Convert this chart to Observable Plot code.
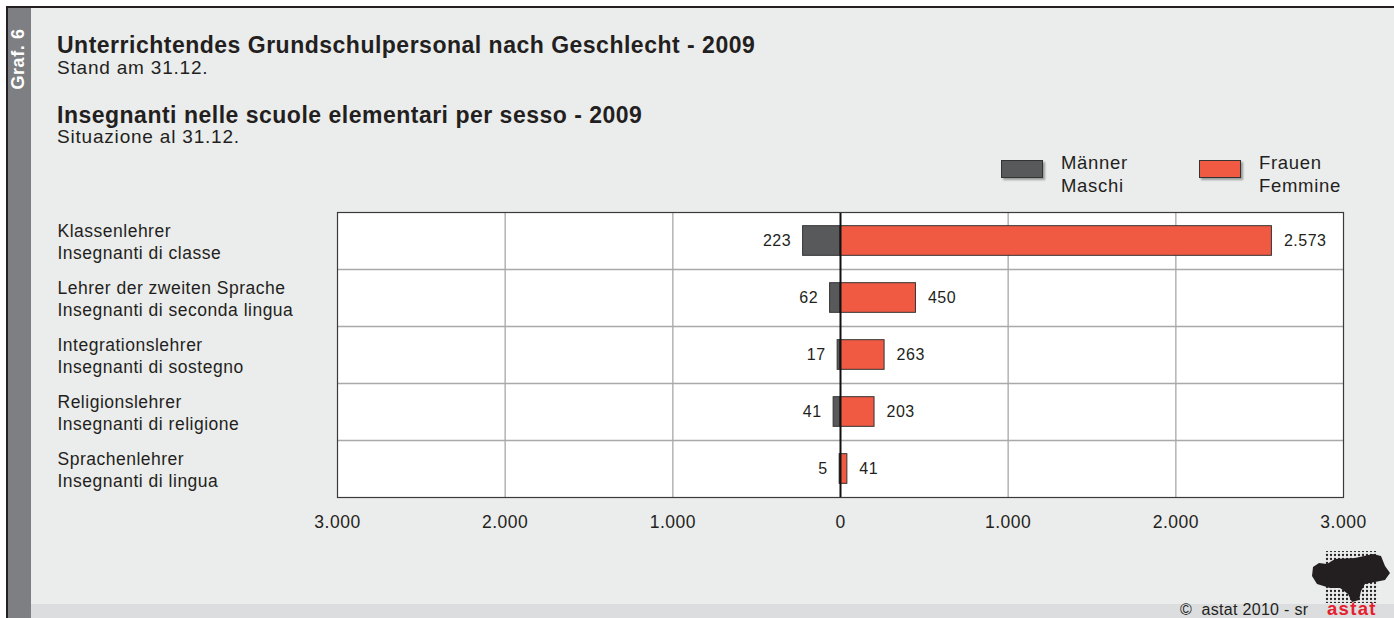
<!DOCTYPE html>
<html>
<head>
<meta charset="utf-8">
<script src="https://cdn.jsdelivr.net/npm/d3@7"></script>
<script src="https://cdn.jsdelivr.net/npm/@observablehq/plot@0.6"></script>
<style>
  html, body { margin: 0; padding: 0; background: #ffffff; }
  #page { position: relative; width: 1394px; height: 618px; overflow: hidden; background: #ffffff;
          font-family: "Liberation Sans", Arial, Helvetica, sans-serif; color: #231f20; }
  #frame { position: absolute; left: 6px; top: 6px; right: 0; bottom: 0; background: #ebecec;
           border-left: 2px solid #231f20; border-top: 2px solid #231f20; }
  #strip { position: absolute; left: 8px; top: 8px; width: 23px; bottom: 0; background: #7e7f82; }
  #graf { position: absolute; left: 18px; top: 59px; transform: translate(-50%, -50%) rotate(-90deg);
          color: #ffffff; font-weight: bold; font-size: 18px; white-space: nowrap; letter-spacing: 0.6px; }
  #foot { position: absolute; left: 31px; right: 0; top: 604px; bottom: 0; background: #dcdddf; }
  .t { position: absolute; left: 57px; white-space: nowrap; line-height: 1; }
  .h { font-weight: bold; font-size: 23px; letter-spacing: 0.5px; }
  .s { font-size: 19px; letter-spacing: 0.8px; }
  .sw { position: absolute; width: 40px; height: 16px; border: 1px solid #333; box-shadow: 2px 2px 2px rgba(0,0,0,0.35); }
  .lg { position: absolute; font-size: 18.5px; line-height: 23px; white-space: nowrap; letter-spacing: 0.7px; }
  #chart { position: absolute; left: 0; top: 200px; }
  #copy { position: absolute; left: 1180px; top: 602px; font-size: 16px; line-height: 1; white-space: nowrap; letter-spacing: 0.3px; }
  #astat { position: absolute; left: 1327px; top: 600px; font-size: 18.5px; line-height: 17px; font-weight: bold; color: #e5202e; letter-spacing: 1.3px; }
  #logo { position: absolute; left: 1305px; top: 545px; }
</style>
</head>
<body>
<div id="page">
  <div id="frame"></div>
  <div id="strip"></div>
  <div id="graf">Graf. 6</div>
  <div id="foot"></div>

  <div class="t h" style="top:33.5px">Unterrichtendes Grundschulpersonal nach Geschlecht - 2009</div>
  <div class="t s" style="top:57.5px">Stand am 31.12.</div>
  <div class="t h" style="top:103.5px">Insegnanti nelle scuole elementari per sesso - 2009</div>
  <div class="t s" style="top:126.5px">Situazione al 31.12.</div>

  <div id="legend"></div>
  <div id="chart"></div>

  <svg id="logo" width="89" height="60" viewBox="0 0 89 60">
    <defs>
      <pattern id="dp" width="4" height="4" patternUnits="userSpaceOnUse">
        <circle cx="2" cy="2" r="1.15" fill="#231f20"/>
      </pattern>
    </defs>
    <rect x="20" y="6" width="53" height="52" fill="url(#dp)"/>
    <path d="M8,22 L14,18 L22,19 L30,14 L50,13 L68,9 L76,11 L80,21 L85,28 L80,35 L70,37 L60,39 L56,46 L54,55 L47,57 L43,49 L35,43 L25,43 L12,39 L7,31 Z" fill="#231f20"/>
  </svg>
  <div id="copy">©&nbsp; astat 2010 - sr</div>
  <div id="astat">astat</div>
</div>
<script>
// ---- data ----
const categoriesDe = ["Klassenlehrer", "Lehrer der zweiten Sprache", "Integrationslehrer", "Religionslehrer", "Sprachenlehrer"];
const categoriesIt = ["Insegnanti di classe", "Insegnanti di seconda lingua", "Insegnanti di sostegno", "Insegnanti di religione", "Insegnanti di lingua"];
const maleValues = [223, 62, 17, 41, 5];
const femaleValues = [2573, 450, 263, 203, 41];
const xTicks = [-3000, -2000, -1000, 0, 1000, 2000, 3000];
const seriesNames = [["Männer", "Maschi"], ["Frauen", "Femmine"]];
const seriesColors = ["#58595b", "#f15a42"];

// ---- build table ----
const rows = categoriesDe.map((de, i) => ({
  i, label: de + "\n" + categoriesIt[i], male: maleValues[i], female: femaleValues[i]
}));
const separators = d3.range(1, rows.length);

const loc = d3.formatLocale({decimal: ",", thousands: ".", grouping: [3], currency: ["", "€"]});
const fmt = loc.format(",d");

// ---- legend ----
const legend = document.getElementById("legend");
[[1001, 1061], [1199, 1259]].forEach(([sx, tx], k) => {
  const sw = document.createElement("div");
  sw.className = "sw";
  sw.style.left = sx + "px"; sw.style.top = "160px"; sw.style.background = seriesColors[k];
  legend.appendChild(sw);
  const t = document.createElement("div");
  t.className = "lg";
  t.style.left = tx + "px"; t.style.top = "151px";
  t.innerHTML = seriesNames[k].join("<br>");
  legend.appendChild(t);
});

// ---- chart ----
const pad = 0.24;
const chart = Plot.plot({
  width: 1394,
  height: 345,
  marginLeft: 337,
  marginRight: 51,
  marginTop: 12,
  marginBottom: 48,
  style: {background: "transparent", fontFamily: "Liberation Sans, Arial, sans-serif", color: "#231f20",
          overflow: "visible", letterSpacing: "0.5px"},
  x: {domain: [-3000, 3000], axis: null},
  y: {domain: [0, rows.length], reverse: true, axis: null},
  marks: [
    Plot.frame({fill: "#ffffff", stroke: "none"}),
    Plot.ruleX(xTicks.filter(d => d !== 0 && Math.abs(d) !== 3000), {stroke: "#b3b3b3", strokeWidth: 1.5}),
    Plot.ruleY(separators, {stroke: "#a9a9a9", strokeWidth: 1.5}),
    Plot.rectX(rows, {x1: 0, x2: d => -d.male, y1: d => d.i + pad, y2: d => d.i + 1 - pad,
      fill: seriesColors[0], stroke: "#333333", strokeWidth: 1}),
    Plot.rectX(rows, {x1: 0, x2: d => d.female, y1: d => d.i + pad, y2: d => d.i + 1 - pad,
      fill: seriesColors[1], stroke: "#333333", strokeWidth: 1}),
    Plot.ruleX([0], {stroke: "#111111", strokeWidth: 2}),
    Plot.frame({stroke: "#3a3a3a", strokeWidth: 1.2}),
    Plot.text(rows, {x: d => -d.male, y: d => d.i + 0.5, text: d => fmt(d.male), dx: -12,
      textAnchor: "end", fontSize: 16, fill: "#231f20"}),
    Plot.text(rows, {x: d => d.female, y: d => d.i + 0.5, text: d => fmt(d.female), dx: 12,
      textAnchor: "start", fontSize: 16, fill: "#231f20"}),
    Plot.text(rows, {frameAnchor: "left", y: d => d.i + 0.5, text: "label", dx: -280,
      textAnchor: "start", lineHeight: 1.25, fontSize: 17.5, fill: "#231f20"}),
    Plot.axisX({ticks: xTicks, tickFormat: d => fmt(Math.abs(d)), tickSize: 0, tickPadding: 18,
      fontSize: 17.5, fill: "#231f20"})
  ]
});
document.getElementById("chart").appendChild(chart);
</script>
</body>
</html>
